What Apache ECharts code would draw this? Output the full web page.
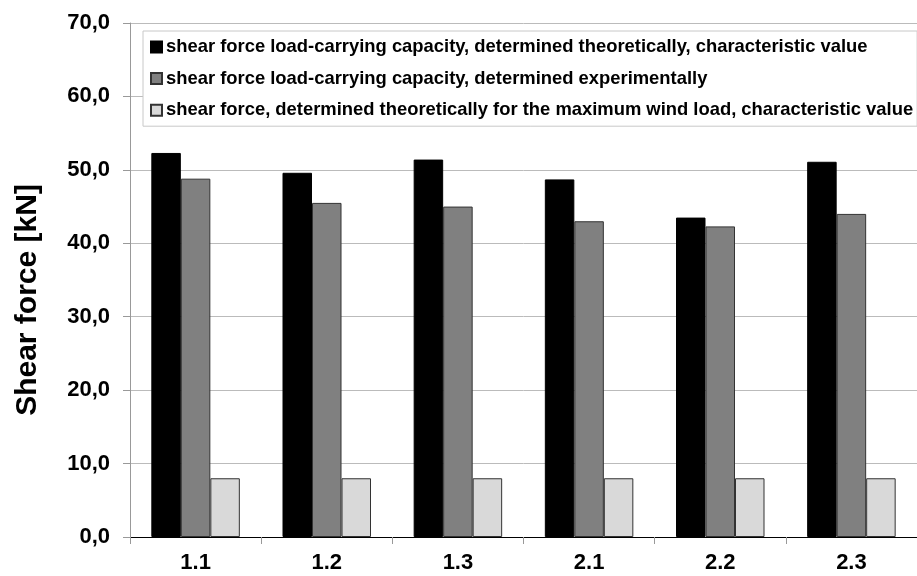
<!DOCTYPE html>
<html>
<head>
<meta charset="utf-8">
<script src="https://cdn.jsdelivr.net/npm/echarts@6/dist/echarts.min.js"></script>
<style>html,body{margin:0;padding:0;background:#fff;}#c{width:917px;height:576px;}</style>
</head>
<body>
<div id="c"></div>
<script>
const categories = ['1.1', '1.2', '1.3', '2.1', '2.2', '2.3'];
const theoretical = [52.3, 49.6, 51.4, 48.7, 43.5, 51.1];
const experimental = [48.8, 45.5, 45.0, 43.0, 42.3, 44.0];
const windLoad = [8.0, 8.0, 8.0, 8.0, 8.0, 8.0];
const seriesNames = [
  'shear force load-carrying capacity, determined theoretically, characteristic value',
  'shear force load-carrying capacity, determined experimentally',
  'shear force, determined theoretically for the maximum wind load, characteristic value'
];
const yTicks = { min: 0, max: 70, interval: 10 };

const font = 'Liberation Sans, Arial, sans-serif';
const chart = echarts.init(document.getElementById('c'), null, { renderer: 'canvas' });
function bar(name, data, color, border) {
  return {
    name: name, type: 'bar', data: data, barWidth: 29.5, barGap: '0%',
    itemStyle: { color: color, borderColor: border, borderWidth: 1 },
    animation: false
  };
}
chart.setOption({
  animation: false,
  grid: { left: 130, top: 23, bottom: 39, width: 797, containLabel: false },
  legend: {
    orient: 'vertical', left: 143, top: 31,
    backgroundColor: '#fff', borderColor: '#c8c8c8', borderWidth: 1,
    padding: [7, 4, 7, 7], itemGap: 13.6,
    itemWidth: 11, itemHeight: 11, icon: 'rect',
    textStyle: { fontFamily: font, fontWeight: 'bold', fontSize: 18.4, color: '#000', padding: [0, 0, 0, -1] },
    selectedMode: false
  },
  xAxis: {
    type: 'category', data: categories,
    axisLine: { lineStyle: { color: '#000', width: 1 } },
    axisTick: { show: true, length: 7, lineStyle: { color: '#999' } },
    axisLabel: { fontFamily: font, fontWeight: 'bold', fontSize: 22, color: '#000', margin: 15 }
  },
  yAxis: {
    type: 'value', min: yTicks.min, max: yTicks.max, interval: yTicks.interval,
    name: 'Shear force [kN]', nameLocation: 'middle', nameGap: 87,
    nameTextStyle: { fontFamily: font, fontWeight: 'bold', fontSize: 30, color: '#000', padding: [0, 40, 0, 0] },
    axisLine: { show: true, lineStyle: { color: '#999' } },
    axisTick: { show: true, length: 7, lineStyle: { color: '#999' } },
    splitLine: { lineStyle: { color: '#bbb', width: 1 } },
    axisLabel: {
      fontFamily: font, fontWeight: 'bold', fontSize: 22, color: '#000', margin: 20,
      formatter: v => v.toFixed(1).replace('.', ',')
    }
  },
  series: [
    bar(seriesNames[0], theoretical, '#000000', '#000000'),
    bar(seriesNames[1], experimental, '#808080', '#333333'),
    bar(seriesNames[2], windLoad, '#d9d9d9', '#333333')
  ]
});
</script>
</body>
</html>
